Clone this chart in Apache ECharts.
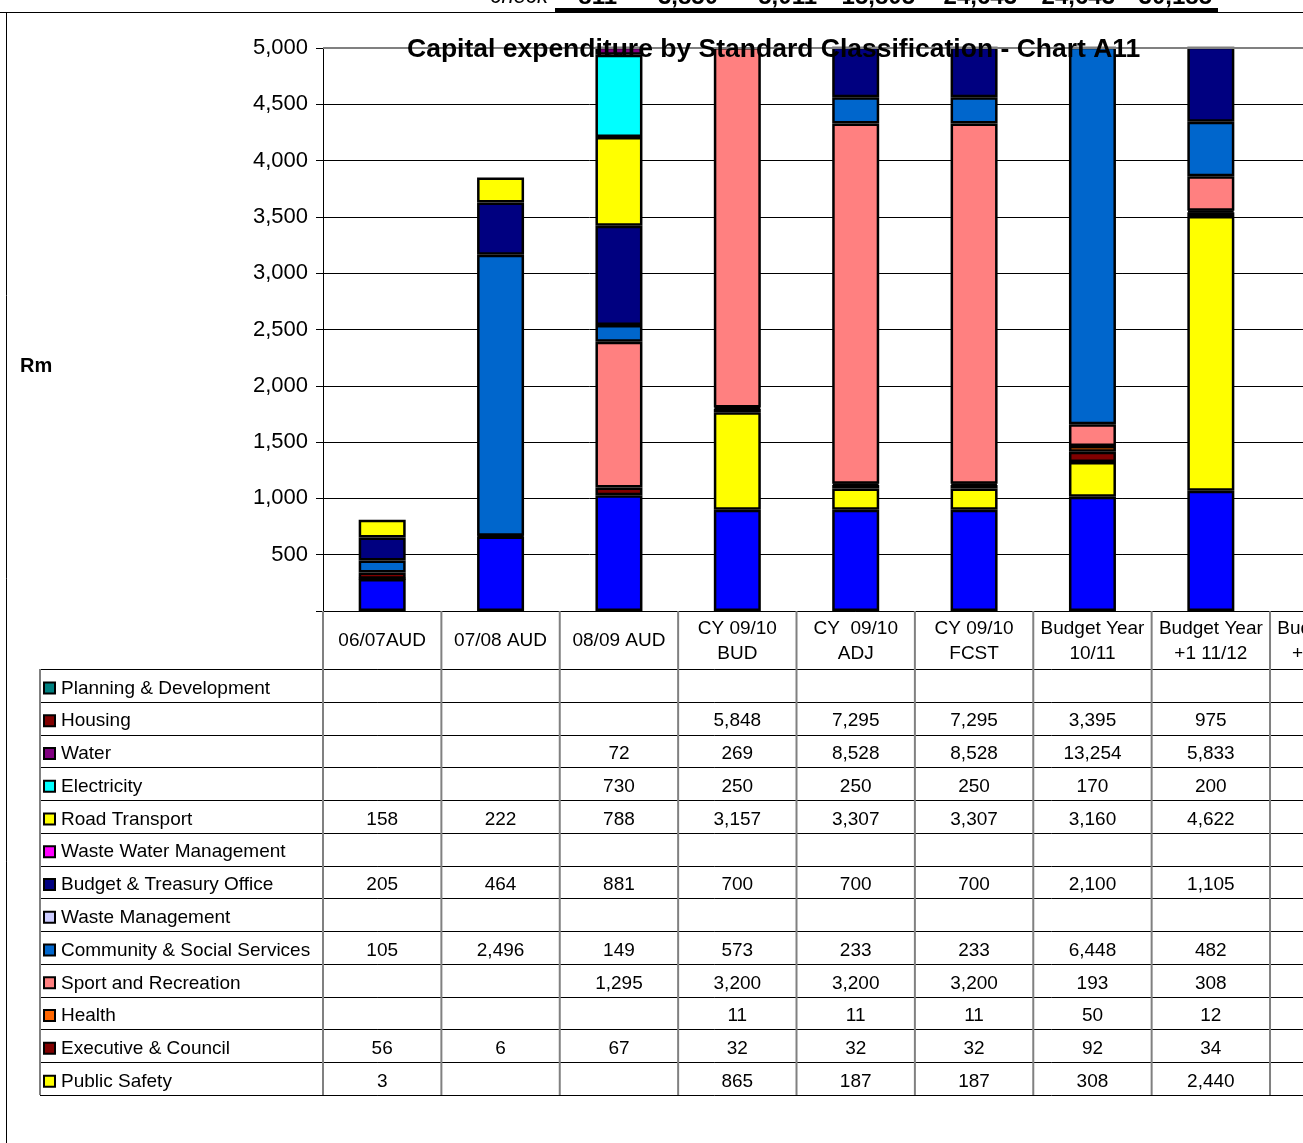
<!DOCTYPE html>
<html>
<head>
<meta charset="utf-8">
<title>Capital expenditure by Standard Classification - Chart A11</title>
<script src="https://cdn.jsdelivr.net/npm/echarts@6/dist/echarts.min.js"></script>
<style>
  html, body { margin: 0; padding: 0; overflow: hidden; background: #fff; }
  #chart { width: 1400px; height: 1143px; }
</style>
</head>
<body>
<div id="chart"></div>
<script>
const FONT = '"Liberation Sans", Arial, sans-serif';

const categories = [
  '06/07AUD', '07/08 AUD', '08/09 AUD',
  'CY 09/10\nBUD', 'CY  09/10\nADJ', 'CY 09/10\nFCST',
  'Budget Year\n10/11', 'Budget Year\n+1 11/12', 'Budget Year\n+2 12/13'
];

// series in stack order, bottom first ("Other" has no row in the table)
const seriesNames = [
  'Other', 'Public Safety', 'Executive & Council', 'Health', 'Sport and Recreation',
  'Community & Social Services', 'Waste Management', 'Budget & Treasury Office',
  'Waste Water Management', 'Road Transport', 'Electricity', 'Water', 'Housing',
  'Planning & Development'
];

const otherCapital   = [284, 662, 1029, 900, 900, 900, 1015, 1068, null];
const publicSafety   = [3, null, null, 865, 187, 187, 308, 2440, null];
const executive      = [56, 6, 67, 32, 32, 32, 92, 34, null];
const health         = [null, null, null, 11, 11, 11, 50, 12, null];
const sport          = [null, null, 1295, 3200, 3200, 3200, 193, 308, null];
const community      = [105, 2496, 149, 573, 233, 233, 6448, 482, null];
const wasteMgmt      = [null, null, null, null, null, null, null, null, null];
const budgetTreasury = [205, 464, 881, 700, 700, 700, 2100, 1105, null];
const wasteWater     = [null, null, null, null, null, null, null, null, null];
const roadTransport  = [158, 222, 788, 3157, 3307, 3307, 3160, 4622, null];
const electricity    = [null, null, 730, 250, 250, 250, 170, 200, null];
const water          = [null, null, 72, 269, 8528, 8528, 13254, 5833, null];
const housing        = [null, null, null, 5848, 7295, 7295, 3395, 975, null];
const planning       = [null, null, null, null, null, null, null, null, null];

const seriesValues = [
  otherCapital, publicSafety, executive, health, sport, community, wasteMgmt,
  budgetTreasury, wasteWater, roadTransport, electricity, water, housing, planning
];

const seriesColors = [
  '#0000FF', '#FFFF00', '#800000', '#FF6600', '#FF8080', '#0066CC', '#CCCCFF',
  '#000080', '#FF00FF', '#FFFF00', '#00FFFF', '#800080', '#800000', '#008080'
];

const fmt = v => (v == null ? '' : v.toLocaleString('en-US'));

// the spreadsheet "check" row above the chart: column totals
const checkTotals = categories.slice(0, 7).map((_, i) =>
  seriesValues.reduce((s, arr) => s + (arr[i] || 0), 0));
const checkRight = [617, 718, 817, 915, 1017, 1115, 1212];

const chart = echarts.init(document.getElementById('chart'), null, { renderer: 'canvas' });

chart.setOption({
  animation: false,
  title: {
    text: 'Capital expenditure by Standard Classification - Chart A11',
    left: 402,
    top: 31,
    textStyle: { fontFamily: FONT, fontSize: 26.5, fontWeight: 'bold', color: '#000' }
  },
  grid: { left: 323, top: 48, right: 1400 - 1388.4, bottom: 1143 - 611 },
  xAxis: {
    type: 'category',
    data: categories,
    axisLine: { lineStyle: { color: '#000', width: 1 } },
    axisTick: { show: false },
    axisLabel: {
      interval: 0,
      fontFamily: FONT,
      fontSize: 19,
      lineHeight: 25,
      color: '#000',
      verticalAlign: 'middle',
      margin: 30
    }
  },
  yAxis: {
    type: 'value',
    min: 0,
    max: 5000,
    interval: 500,
    axisLine: { show: true, lineStyle: { color: '#000', width: 1 } },
    axisTick: { show: true, length: 7, lineStyle: { color: '#000' } },
    splitLine: { lineStyle: { color: '#000', width: 1 } },
    axisLabel: {
      fontFamily: FONT,
      fontSize: 22,
      color: '#000',
      margin: 15,
      formatter: v => (v === 0 ? '' : v.toLocaleString('en-US'))
    }
  },
  series: seriesNames.map((name, k) => ({
    name: name,
    type: 'bar',
    stack: 'total',
    barWidth: 47,
    data: seriesValues[k],
    itemStyle: { color: seriesColors[k], borderColor: '#000', borderWidth: 2.5 }
  }))
});

// table and decorations positioned from the chart's own scales
const xc = i => chart.convertToPixel({ xAxisIndex: 0 }, i);
const yv = v => chart.convertToPixel({ yAxisIndex: 0 }, v);
const band = xc(1) - xc(0);
const plotLeft = xc(0) - band / 2;
const plotRight = xc(categories.length - 1) + band / 2;
const yTop = yv(5000);
const yBottom = yv(0);
const headerBottom = yBottom + 58;
const rowH = 32.77;
const labelLeft = 40;
const tableRows = seriesNames.slice(1).reverse();
const tableValues = seriesValues.slice(1).reverse();
const tableColors = seriesColors.slice(1).reverse();
const tableBottom = headerBottom + rowH * tableRows.length;

const g = [];
const line = (x1, y1, x2, y2, color, width, z) => g.push({
  type: 'line', z: z || 10, silent: true,
  shape: { x1, y1, x2, y2 },
  style: { stroke: color, lineWidth: width }
});
const text = (x, y, str, opts) => g.push({
  type: 'text', z: 20, silent: true, x, y,
  style: Object.assign({
    text: str, fontFamily: FONT, fontSize: 19, fill: '#000',
    align: 'center', verticalAlign: 'middle'
  }, opts || {})
});

// chart frame and the spreadsheet row cut at the top
g.push({ type: 'rect', z: 1, silent: true,
  shape: { x: 6.5, y: 12.5, width: 1500, height: 1300 },
  style: { fill: null, stroke: '#000', lineWidth: 1 } });
line(0, 12.5, 1400, 12.5, '#000', 1);
line(555, 10, 1218, 10, '#000', 4);
text(548, -3, 'check', { align: 'right', fontSize: 22, fontStyle: 'italic' });
checkTotals.forEach((t, i) => text(checkRight[i], -3, fmt(t),
  { align: 'right', fontSize: 24, fontWeight: 'bold' }));

// plot-area top border
line(plotLeft, yTop, 1400, yTop, '#808080', 2, 5);

// axis title
text(20, 366, 'Rm', { align: 'left', fontSize: 20, fontWeight: 'bold' });

// table grid
for (let r = 0; r <= tableRows.length; r++) {
  const y = Math.round(headerBottom + r * rowH) + 0.5;
  line(labelLeft, y, plotRight, y, '#000', 1);
}
line(labelLeft, headerBottom, labelLeft, tableBottom, '#808080', 2);
for (let c = 0; c <= categories.length; c++) {
  const x = plotLeft + c * band;
  line(x, yBottom, x, tableBottom, '#808080', 2);
}

// table rows: legend key, name, values
tableRows.forEach((name, r) => {
  const cy = headerBottom + r * rowH + rowH / 2 + 3;
  g.push({ type: 'rect', z: 20, silent: true,
    shape: { x: 44, y: cy - 6, width: 11, height: 11 },
    style: { fill: tableColors[r], stroke: '#000', lineWidth: 2 } });
  text(61, cy, name, { align: 'left' });
  tableValues[r].forEach((v, c) => {
    if (v != null) text(xc(c), cy, fmt(v));
  });
});

chart.setOption({ graphic: { elements: g } });
</script>
</body>
</html>
